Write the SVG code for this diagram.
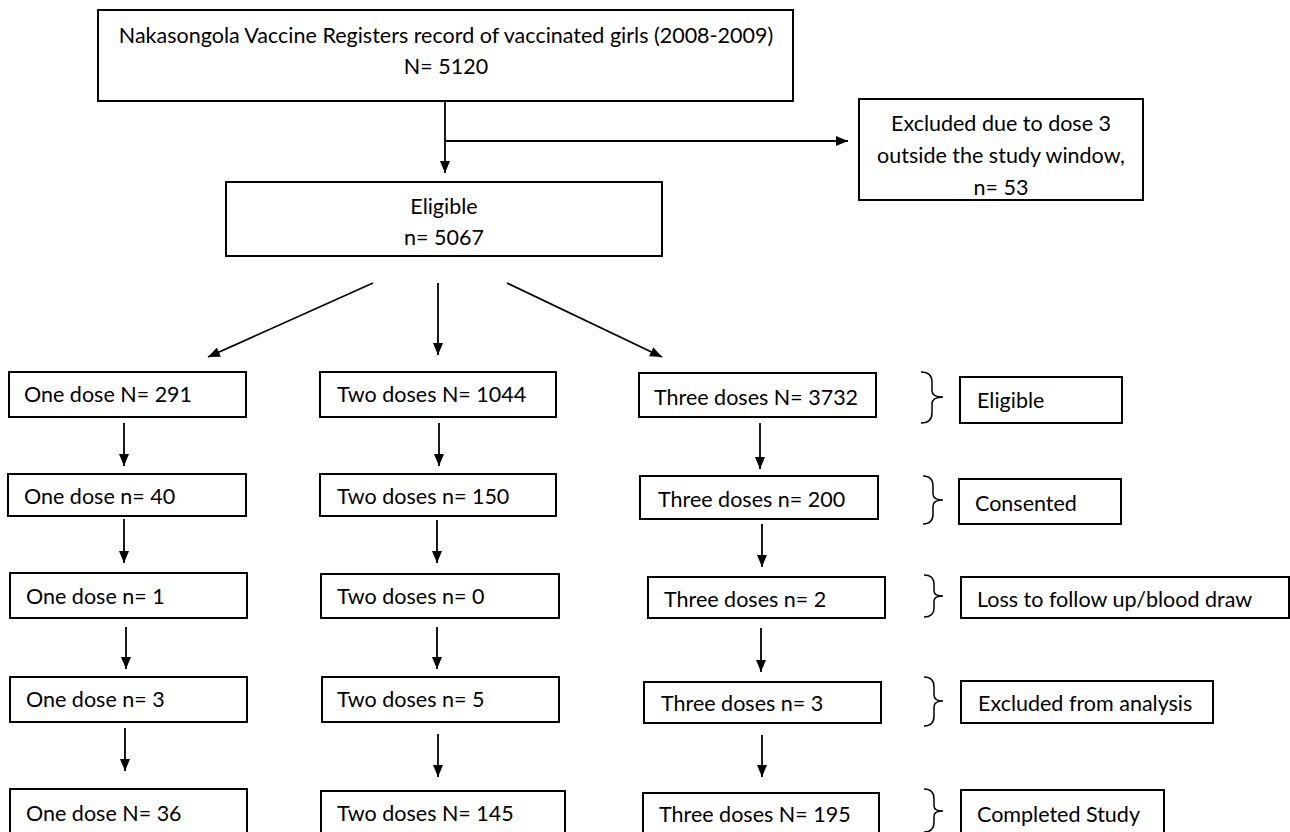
<svg xmlns="http://www.w3.org/2000/svg" width="1290" height="832" viewBox="0 0 1290 832">
<defs>
<style>
.box{fill:#fff;stroke:#000;stroke-width:2}
.t{font-family:Lato,"Liberation Sans",sans-serif;font-size:21.5px;fill:#000}
.c{text-anchor:middle}
.ln{stroke:#000;stroke-width:1.8;fill:none}
.br{stroke:#000;stroke-width:1.5;fill:none}
</style>
<marker id="ah" viewBox="0 0 12 10" refX="12" refY="5" markerWidth="12" markerHeight="10" markerUnits="userSpaceOnUse" orient="auto">
<path d="M0,0 L12,5 L0,10 z" fill="#000"/>
</marker>
</defs>
<rect width="1290" height="832" fill="#fff"/>

<g id="connectors">
<line class="ln" x1="445" y1="101" x2="445" y2="173" marker-end="url(#ah)"/>
<line class="ln" x1="445" y1="141" x2="848" y2="141" marker-end="url(#ah)"/>
<line class="ln" x1="373" y1="283" x2="208" y2="357" marker-end="url(#ah)"/>
<line class="ln" x1="438" y1="283" x2="438" y2="355" marker-end="url(#ah)"/>
<line class="ln" x1="507" y1="283" x2="662" y2="357" marker-end="url(#ah)"/>
<line class="ln" x1="124" y1="423" x2="124" y2="466" marker-end="url(#ah)"/>
<line class="ln" x1="439" y1="423" x2="439" y2="466" marker-end="url(#ah)"/>
<line class="ln" x1="760" y1="423" x2="760" y2="469" marker-end="url(#ah)"/>
<line class="ln" x1="124" y1="519" x2="124" y2="563" marker-end="url(#ah)"/>
<line class="ln" x1="437" y1="520" x2="437" y2="563" marker-end="url(#ah)"/>
<line class="ln" x1="762" y1="524" x2="762" y2="567" marker-end="url(#ah)"/>
<line class="ln" x1="126" y1="627" x2="126" y2="669" marker-end="url(#ah)"/>
<line class="ln" x1="437" y1="627" x2="437" y2="669" marker-end="url(#ah)"/>
<line class="ln" x1="761" y1="628" x2="761" y2="672" marker-end="url(#ah)"/>
<line class="ln" x1="125" y1="728" x2="125" y2="771" marker-end="url(#ah)"/>
<line class="ln" x1="438" y1="734" x2="438" y2="777" marker-end="url(#ah)"/>
<line class="ln" x1="762" y1="735" x2="762" y2="777" marker-end="url(#ah)"/>
</g>

<g id="braces">
<path class="br" d="M921,372 Q932,372 932,382 L932,391 Q932,397 943,397 Q932,397 932,404 L932,413 Q932,423 921,423"/>
<path class="br" d="M923,476 Q933,476 933,486 L933,494 Q933,500 943,500 Q933,500 933,506 L933,514 Q933,524 923,524"/>
<path class="br" d="M924,575 Q934,575 934,584 L934,591 Q934,596 943,596 Q934,596 934,601 L934,608 Q934,617 924,617"/>
<path class="br" d="M924,677 Q934,677 934,687 L934,695 Q934,701 943,701 Q934,701 934,707 L934,716 Q934,726 924,726"/>
<path class="br" d="M924,789 Q934,789 934,799 L934,806 Q934,811 943,811 Q934,811 934,816 L934,822 Q934,832 924,832"/>
</g>

<g id="n-top"><rect class="box" x="98" y="10" width="695" height="91"/>
<text class="t c" x="446" y="43">Nakasongola Vaccine Registers record of vaccinated girls (2008-2009)</text>
<text class="t c" x="446" y="74">N= 5120</text></g>

<g id="n-excl"><rect class="box" x="859" y="99" width="284" height="101"/>
<text class="t c" x="1001" y="131">Excluded due to dose 3</text>
<text class="t c" x="1001" y="163">outside the study window,</text>
<text class="t c" x="1001" y="195">n= 53</text></g>

<g id="n-elig"><rect class="box" x="226" y="182" width="436" height="74"/>
<text class="t c" x="444" y="214">Eligible</text>
<text class="t c" x="444" y="245">n= 5067</text></g>

<g id="n-1a"><rect class="box" x="9" y="372" width="237" height="45"/><text class="t" x="24" y="402">One dose N= 291</text></g>
<g id="n-2a"><rect class="box" x="320" y="372" width="236" height="45"/><text class="t" x="337" y="402">Two doses N= 1044</text></g>
<g id="n-3a"><rect class="box" x="639" y="373" width="237" height="44"/><text class="t" x="654" y="405">Three doses N= 3732</text></g>
<g id="n-ra"><rect class="box" x="960" y="377" width="162" height="46"/><text class="t" x="977" y="408">Eligible</text></g>

<g id="n-1b"><rect class="box" x="8" y="474" width="238" height="42"/><text class="t" x="24" y="504">One dose n= 40</text></g>
<g id="n-2b"><rect class="box" x="320" y="474" width="236" height="42"/><text class="t" x="337" y="504">Two doses n= 150</text></g>
<g id="n-3b"><rect class="box" x="640" y="476" width="238" height="43"/><text class="t" x="658" y="507">Three doses n= 200</text></g>
<g id="n-rb"><rect class="box" x="959" y="479" width="162" height="45"/><text class="t" x="975" y="511">Consented</text></g>

<g id="n-1c"><rect class="box" x="10" y="573" width="237" height="45"/><text class="t" x="26" y="604">One dose n= 1</text></g>
<g id="n-2c"><rect class="box" x="321" y="574" width="238" height="44"/><text class="t" x="337" y="604">Two doses n= 0</text></g>
<g id="n-3c"><rect class="box" x="648" y="577" width="237" height="41"/><text class="t" x="664" y="607">Three doses n= 2</text></g>
<g id="n-rc"><rect class="box" x="961" y="577" width="328" height="41"/><text class="t" x="977" y="607">Loss to follow up/blood draw</text></g>

<g id="n-1d"><rect class="box" x="10" y="677" width="237" height="45"/><text class="t" x="26" y="707">One dose n= 3</text></g>
<g id="n-2d"><rect class="box" x="322" y="677" width="237" height="45"/><text class="t" x="337" y="707">Two doses n= 5</text></g>
<g id="n-3d"><rect class="box" x="644" y="682" width="237" height="41"/><text class="t" x="661" y="711">Three doses n= 3</text></g>
<g id="n-rd"><rect class="box" x="961" y="681" width="252" height="42"/><text class="t" x="978" y="711">Excluded from analysis</text></g>

<g id="n-1e"><rect class="box" x="10" y="789" width="237" height="60"/><text class="t" x="26" y="821">One dose N= 36</text></g>
<g id="n-2e"><rect class="box" x="321" y="791" width="244" height="60"/><text class="t" x="337" y="821">Two doses N= 145</text></g>
<g id="n-3e"><rect class="box" x="643" y="793" width="236" height="60"/><text class="t" x="659" y="822">Three doses N= 195</text></g>
<g id="n-re"><rect class="box" x="961" y="790" width="203" height="60"/><text class="t" x="977" y="822">Completed Study</text></g>
</svg>
